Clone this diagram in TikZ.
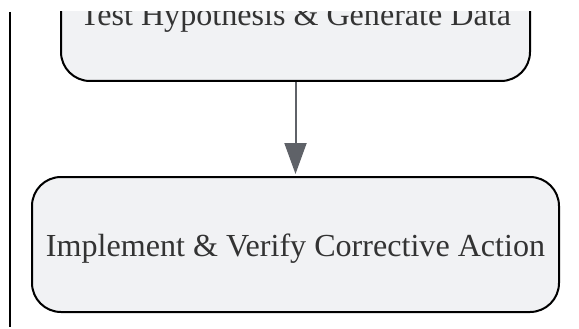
\documentclass[tikz,border=0pt]{standalone}
\usepackage{fontspec}
\setmainfont{Liberation Serif}
\usetikzlibrary{arrows.meta}
\definecolor{boxfill}{RGB}{241,242,244}
\definecolor{textgray}{RGB}{51,51,51}
\definecolor{arrowgray}{RGB}{95,98,104}
\begin{document}
\begin{tikzpicture}[x=1pt,y=-1pt,
  stepbox/.style={draw=black, line width=2pt, fill=boxfill, rounded corners=29pt, minimum height=135pt, inner sep=0pt, text=textgray, font=\fontsize{32.1}{38}\selectfont, text height=24pt, text depth=0pt}]
\useasboundingbox (0,0) rectangle (579,329);
\clip (0,12) rectangle (579,329);
\draw[line width=2pt] (10,12) -- (10,327);
\node[stepbox, minimum width=469pt] (hypo) at (295.5,13.5) {Test Hypothesis \& Generate Data};
\node[stepbox, minimum width=527pt] (action) at (295.5,244.5) {Implement \& Verify Corrective Action};
\draw[arrowgray, line width=2pt, -{Triangle[length=31pt,width=22pt]}, shorten >=2pt](hypo) -- (action);
\end{tikzpicture}
\end{document}
